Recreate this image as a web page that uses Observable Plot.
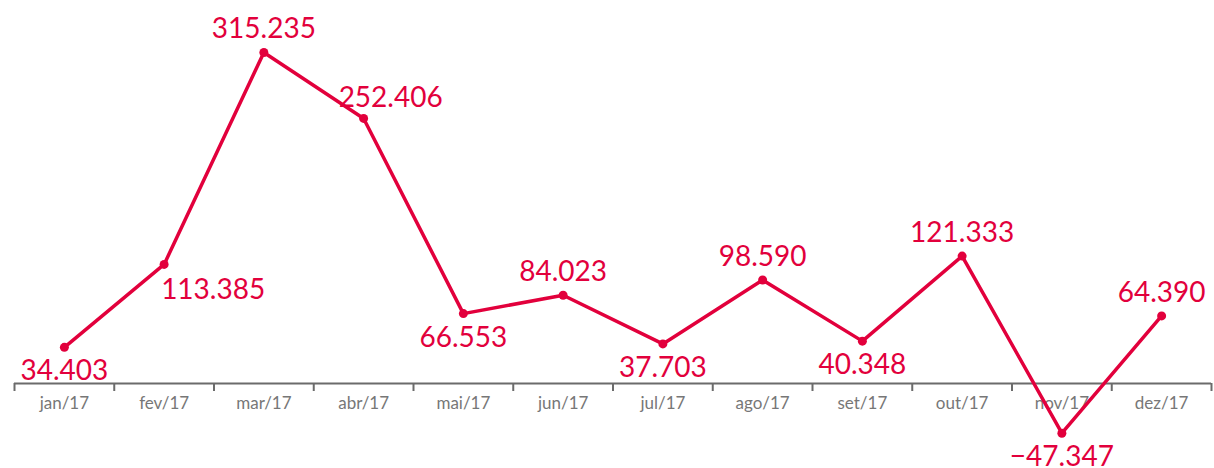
<!DOCTYPE html>
<html>
<head>
<meta charset="utf-8">
<script src="https://cdn.jsdelivr.net/npm/d3@7"></script>
<script src="https://cdn.jsdelivr.net/npm/@observablehq/plot@0.6"></script>
<style>
  html, body { margin: 0; padding: 0; background: #fff; }
  #chart svg { display: block; }
</style>
</head>
<body>
<div id="chart"></div>
<script>
const months = ["jan/17","fev/17","mar/17","abr/17","mai/17","jun/17","jul/17","ago/17","set/17","out/17","nov/17","dez/17"];
const values = [34403, 113385, 315235, 252406, 66553, 84023, 37703, 98590, 40348, 121333, -47347, 64390];

const fmt = d3.formatLocale({decimal: ",", thousands: ".", grouping: [3], currency: ["R$ ", ""]}).format(",");

const data = months.map((m, i) => {
  const prev = i > 0 ? values[i - 1] : null;
  const next = i < values.length - 1 ? values[i + 1] : null;
  const v = values[i];
  let gtPrev = prev === null ? null : v >= prev;
  let gtNext = next === null ? null : v >= next;
  if (gtPrev === null) gtPrev = gtNext;
  if (gtNext === null) gtNext = gtPrev;
  let place;
  if (gtPrev && gtNext) place = "above";
  else if (!gtPrev && !gtNext) place = "below";
  else if (gtPrev) place = "rising";
  else place = "falling";
  return {month: m, value: v, place};
});

const red = "#e2003c";
const gray = "#6b6b6b";
const half = 1197 / 12 / 2;

const chart = Plot.plot({
  width: 1214,
  height: 468,
  marginLeft: 14,
  marginRight: 3,
  marginTop: 0,
  marginBottom: 85,
  style: {fontFamily: "Lato, sans-serif", background: "#fff"},
  x: {type: "point", domain: months, padding: 0.5, round: false, axis: null},
  y: {domain: [0, 364700], axis: null},
  marks: [
    Plot.ruleY([0], {stroke: gray, strokeWidth: 2}),
    Plot.axisX(months, {tickSize: 8, text: null, label: null, dx: -half, stroke: gray, strokeWidth: 2, anchor: "bottom"}),
    Plot.axisX([months[months.length - 1]], {tickSize: 8, text: null, label: null, dx: half, stroke: gray, strokeWidth: 2, anchor: "bottom"}),
    Plot.axisX(months, {tickSize: 0, tickPadding: 13, fontSize: 17, fill: "#777", label: null, anchor: "bottom"}),
    Plot.line(data, {x: "month", y: "value", stroke: red, strokeWidth: 3.5, strokeLinejoin: "round"}),
    Plot.dot(data, {x: "month", y: "value", fill: red, r: 4.5}),
    Plot.text(data.filter(d => d.place === "above"), {x: "month", y: "value", text: d => fmt(d.value), fill: red, fontSize: 28, dy: -23, lineAnchor: "middle"}),
    Plot.text(data.filter(d => d.place === "below"), {x: "month", y: "value", text: d => fmt(d.value), fill: red, fontSize: 28, dy: 24, lineAnchor: "middle"}),
    Plot.text(data.filter(d => d.place === "rising"), {x: "month", y: "value", text: d => fmt(d.value), fill: red, fontSize: 28, dy: 26, dx: -3, textAnchor: "start", lineAnchor: "middle"}),
    Plot.text(data.filter(d => d.place === "falling"), {x: "month", y: "value", text: d => fmt(d.value), fill: red, fontSize: 28, dy: -20, dx: -25, textAnchor: "start", lineAnchor: "middle"})
  ]
});
document.getElementById("chart").appendChild(chart);
</script>
</body>
</html>
